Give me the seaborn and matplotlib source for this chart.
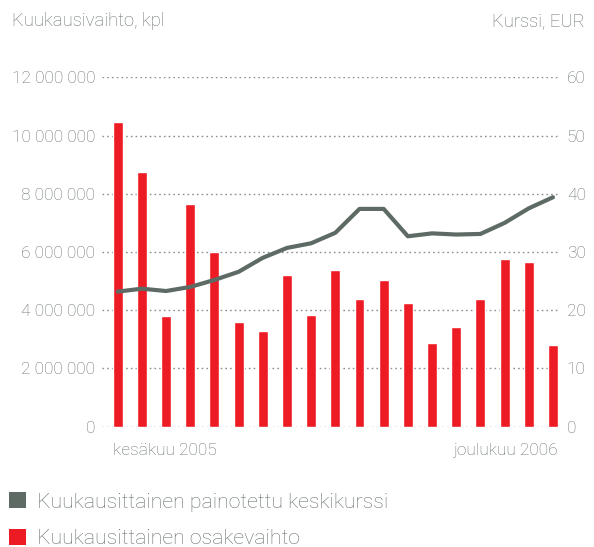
import matplotlib.pyplot as plt
import numpy as np
import pandas as pd
import seaborn as sns
from matplotlib.patches import Patch

# monthly values, June 2005 .. December 2006
months = list(range(19))
volume = [10.45, 8.75, 3.81, 7.65, 6.00, 3.61, 3.27, 5.21, 3.85, 5.38,
          4.39, 5.04, 4.26, 2.86, 3.44, 4.39, 5.76, 5.65, 2.79]  # million shares
price = [23.2, 23.7, 23.3, 24.0, 25.2, 26.6, 29.0, 30.7, 31.5, 33.3,
         37.4, 37.4, 32.7, 33.2, 33.0, 33.1, 35.0, 37.5, 39.4]  # EUR
left_ticks = [0, 2, 4, 6, 8, 10, 12]
left_labels = ["0", "2 000 000", "4 000 000", "6 000 000", "8 000 000",
               "10 000 000", "12 000 000"]
right_ticks = [0, 10, 20, 30, 40, 50, 60]
first_label = "kesäkuu 2005"
last_label = "joulukuu 2006"
left_title = "Kuukausivaihto, kpl"
right_title = "Kurssi, EUR"
line_name = "Kuukausittainen painotettu keskikurssi"
bar_name = "Kuukausittainen osakevaihto"

RED = "#ed1c24"
GREY = "#5e6b64"
TXT = "#66716c"
GRID = "#8a918d"

df = pd.DataFrame({"month": months, "volume": volume, "price": price})

sns.set_style("white")
plt.rcParams["font.family"] = ["Roboto", "DejaVu Sans"]
plt.rcParams["font.weight"] = "light"

fig = plt.figure(figsize=(5.94, 5.47), dpi=100)
ax = fig.add_axes([0.1717, 0.2199, 0.771, 0.6388])

bar_w = 0.41
sns.barplot(data=df, x="month", y="volume", color=RED, width=bar_w,
            saturation=1, ax=ax)
ax.set_ylim(0, 12)
ax.set_yticks(left_ticks)
ax.set_yticklabels(left_labels)
ax.yaxis.grid(True, linestyle=(0, (1.2, 2.2)), color=GRID, linewidth=1)
ax.set_axisbelow(True)
ax.set_xlabel("")
ax.set_ylabel("")
ax.set_xticks([-bar_w / 2, months[-1] + bar_w / 2])
ax.set_xticklabels([first_label, last_label])
xt = ax.get_xticklabels()
xt[0].set_ha("left")
xt[1].set_ha("right")
ax.tick_params(axis="both", length=0, labelsize=12.5, colors=TXT)
ax.tick_params(axis="x", pad=12)
ax.tick_params(axis="y", pad=5)

ax2 = ax.twinx()
sns.lineplot(data=df, x="month", y="price", color=GREY, linewidth=3,
             ax=ax2)
ax2.set_ylim(0, 60)
ax2.set_yticks(right_ticks)
ax2.set_ylabel("")
ax2.tick_params(axis="y", length=0, labelsize=12.5, colors=TXT, pad=5)
ax.set_xlim(-0.65, 18.29)

for a in (ax, ax2):
    for s in a.spines.values():
        s.set_visible(False)

fig.text(12 / 594, 1 - 21 / 547, left_title, fontsize=13.3, color=TXT,
         ha="left", va="center")
fig.text(585 / 594, 1 - 21 / 547, right_title, fontsize=13.3, color=TXT,
         ha="right", va="center")

handles = [Patch(facecolor=GREY, edgecolor="none", label=line_name),
           Patch(facecolor=RED, edgecolor="none", label=bar_name)]
fig.legend(handles=handles, loc="upper left",
           bbox_to_anchor=(9 / 594, 1 - 492 / 547), frameon=False,
           fontsize=15.3, labelcolor=TXT, handlelength=0.8,
           handleheight=0.8, handletextpad=0.5, labelspacing=0.8,
           borderpad=0, borderaxespad=0)

fig.savefig("out.png", dpi=100)
